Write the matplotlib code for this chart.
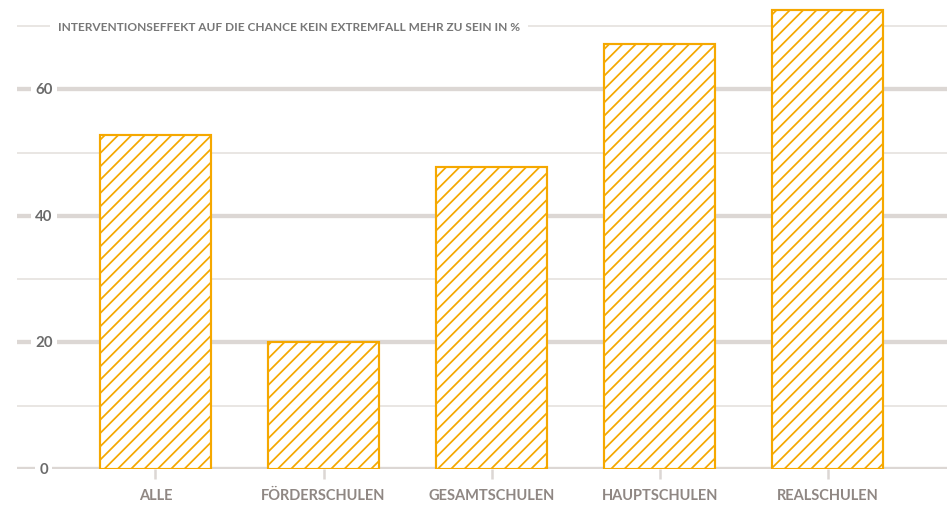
import matplotlib.pyplot as plt
from matplotlib import transforms
import numpy as np

categories = ['ALLE', 'FÖRDERSCHULEN', 'GESAMTSCHULEN', 'HAUPTSCHULEN', 'REALSCHULEN']
values = [52.8, 20.1, 47.8, 67.2, 72.5]
major_ticks = [0, 20, 40, 60]
minor_ticks = [10, 30, 50, 70]
title = 'INTERVENTIONSEFFEKT AUF DIE CHANCE KEIN EXTREMFALL MEHR ZU SEIN IN %'

orange = '#f5a800'
grid_col = '#dcd7d4'

plt.rc('font', family=['Lato', 'DejaVu Sans'])
plt.rcParams['hatch.linewidth'] = 1.05

dpi = 120
fig = plt.figure(figsize=(947 / dpi, 507 / dpi), dpi=dpi)
ax = fig.add_axes([17 / 947, 37 / 507, 930 / 947, 470 / 507])

x = np.arange(len(categories))
ax.bar(x, values, width=0.66, color='white', edgecolor=orange,
       hatch='///', linewidth=1.3, zorder=3)

for v in major_ticks:
    ax.axhline(v, color=grid_col, lw=2.6, zorder=1)
for v in minor_ticks:
    ax.axhline(v, color='#e2dedb', lw=0.9, zorder=1)

trans = transforms.blended_transform_factory(ax.transAxes, ax.transData)
for v in major_ticks:
    ax.text(0.029, v, str(v), transform=trans, ha='center', va='center',
            fontsize=9, fontweight='bold', color='#6b6b6b', zorder=4,
            bbox=dict(facecolor='white', edgecolor='none', pad=2.5))

ax.text(0.044, 70, title, transform=trans, ha='left', va='center',
        fontsize=7.15, fontweight='bold', color='#777777', zorder=4,
        bbox=dict(facecolor='white', edgecolor='none', pad=5))

ax.set_xlim(-0.824, 4.71)
ax.set_ylim(0, 74.3)
ax.set_yticks([])
ax.set_xticks(x)
ax.set_xticklabels(categories, fontsize=8.8, fontweight='bold', color='#8f8783')
ax.tick_params(axis='x', direction='out', length=6, width=1.5,
               color=grid_col, pad=5.5)
for s in ax.spines.values():
    s.set_visible(False)

plt.savefig('out.png', dpi=dpi)
